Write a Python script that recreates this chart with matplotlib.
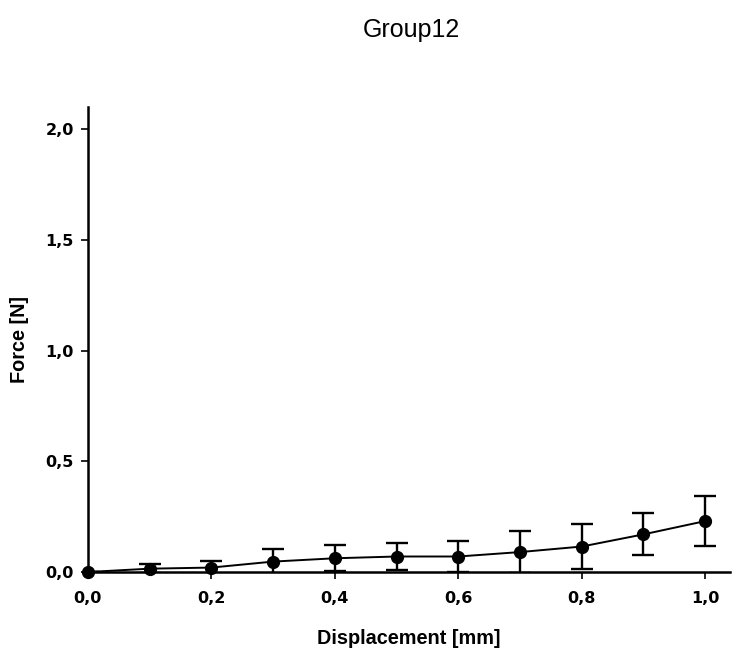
"""
Force vs displacement curve for Group12
"""
import numpy as np
import matplotlib
matplotlib.use("Agg")
import matplotlib.pyplot as plt
from matplotlib.ticker import FuncFormatter

# Data
displacement = [0.0, 0.1, 0.2, 0.3, 0.4, 0.5, 0.6, 0.7, 0.8, 0.9, 1.0]
force_mean = [0.0, 0.015, 0.02, 0.047, 0.062, 0.07, 0.07, 0.09, 0.115, 0.17, 0.23]
force_sd = [0.0, 0.02, 0.03, 0.057, 0.058, 0.063, 0.068, 0.095, 0.1, 0.095, 0.112]

x_ticks = [0.0, 0.2, 0.4, 0.6, 0.8, 1.0]
y_ticks = [0.0, 0.5, 1.0, 1.5, 2.0]


def comma_fmt(v, pos):
    return "{:.1f}".format(v).replace(".", ",")


fig = plt.figure(figsize=(7.38, 6.52), dpi=100)
ax = fig.add_axes([0.119, 0.1227, 0.87, 0.713])

# error bars are clipped at the x axis, the markers are not
ax.errorbar(displacement, force_mean, yerr=force_sd, fmt="none",
            ecolor="black", elinewidth=1.7, capsize=8, capthick=1.7, zorder=3)
ax.plot(displacement, force_mean, color="black", marker="o", markersize=8.5,
        lw=1.4, clip_on=False, zorder=4)

ax.set_xlim(0, 1.04)
ax.set_ylim(0, 2.1)
ax.set_xticks(x_ticks)
ax.set_yticks(y_ticks)
ax.xaxis.set_major_formatter(FuncFormatter(comma_fmt))
ax.yaxis.set_major_formatter(FuncFormatter(comma_fmt))

for side in ["top", "right"]:
    ax.spines[side].set_visible(False)
for side in ["left", "bottom"]:
    ax.spines[side].set_linewidth(1.8)
ax.tick_params(direction="out", length=5, width=1.2)
ax.tick_params(axis="x", pad=9)
ax.tick_params(axis="y", pad=5)
for lab in ax.get_xticklabels() + ax.get_yticklabels():
    lab.set_fontfamily("DejaVu Sans")
    lab.set_fontweight("bold")
    lab.set_fontsize(11.5)

ax.set_xlabel("Displacement [mm]", fontsize=14.3, fontfamily="Liberation Sans",
              fontweight="bold", labelpad=16)
ax.set_ylabel("Force [N]", fontsize=14.3, fontfamily="Liberation Sans",
              fontweight="bold", labelpad=12)
fig.text(0.557, 0.954, "Group12", ha="center", va="center",
         fontsize=18, fontfamily="Liberation Sans")

fig.savefig("out.png", dpi=100)
